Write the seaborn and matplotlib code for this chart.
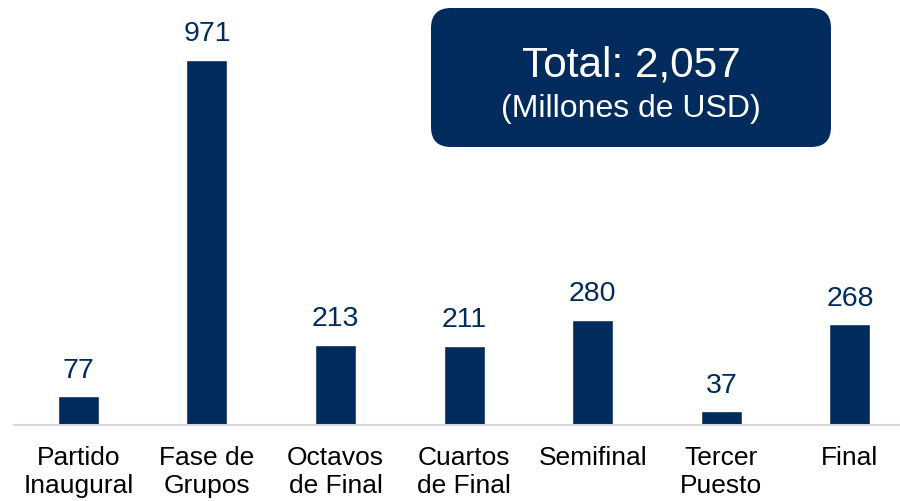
import matplotlib
matplotlib.use("Agg")
import matplotlib.pyplot as plt
import seaborn as sns
import pandas as pd
from matplotlib.patches import FancyBboxPatch

categories = ["Partido\nInaugural", "Fase de\nGrupos", "Octavos\nde Final",
              "Cuartos\nde Final", "Semifinal", "Tercer\nPuesto", "Final"]
values = [77, 971, 213, 211, 280, 37, 268]
total_text = "Total: 2,057"
unit_text = "(Millones de USD)"

NAVY = "#002B5C"

sns.set_theme(style="white")
plt.rcParams["font.family"] = ["Liberation Sans", "DejaVu Sans"]

fig = plt.figure(figsize=(9, 5.01), dpi=100)
W, H = 900, 501
ax = fig.add_axes([14 / W, 76 / H, 886 / W, 425 / H])

df = pd.DataFrame({"cat": categories, "val": values})
sns.barplot(data=df, x="cat", y="val", color=NAVY, saturation=1, width=0.32, ax=ax)

ax.set_xlim(-0.5, -0.5 + 886 / 128.6)
ax.set_ylim(0, 1130)
ax.set_xlabel("")
ax.set_ylabel("")
ax.set_yticks([])
for s in ["left", "right", "top"]:
    ax.spines[s].set_visible(False)
ax.spines["bottom"].set_color("#D9D9D9")
ax.spines["bottom"].set_linewidth(1.5)
ax.tick_params(axis="x", length=0, pad=15, labelsize=19, labelcolor="black")
for lbl in ax.get_xticklabels():
    lbl.set_linespacing(1.22)

for i, v in enumerate(values):
    ax.annotate(f"{v}", xy=(i, v), xytext=(0, 9), textcoords="offset points",
                ha="center", va="bottom", fontsize=20.5, color=NAVY)

# total box
bx = fig.add_axes([431 / W, (H - 147) / H, 400 / W, 139 / H])
bx.set_xlim(0, 400)
bx.set_ylim(0, 139)
bx.axis("off")
box = FancyBboxPatch((0, 0), 400, 139, boxstyle="round,pad=0,rounding_size=20",
                     facecolor=NAVY, edgecolor="none", clip_on=False)
bx.add_patch(box)
bx.text(200, 139 - 57, total_text, ha="center", va="center", fontsize=30.5, color="white")
bx.text(200, 139 - 101, unit_text, ha="center", va="center", fontsize=23, color="white")

fig.savefig("out.png", dpi=100)
